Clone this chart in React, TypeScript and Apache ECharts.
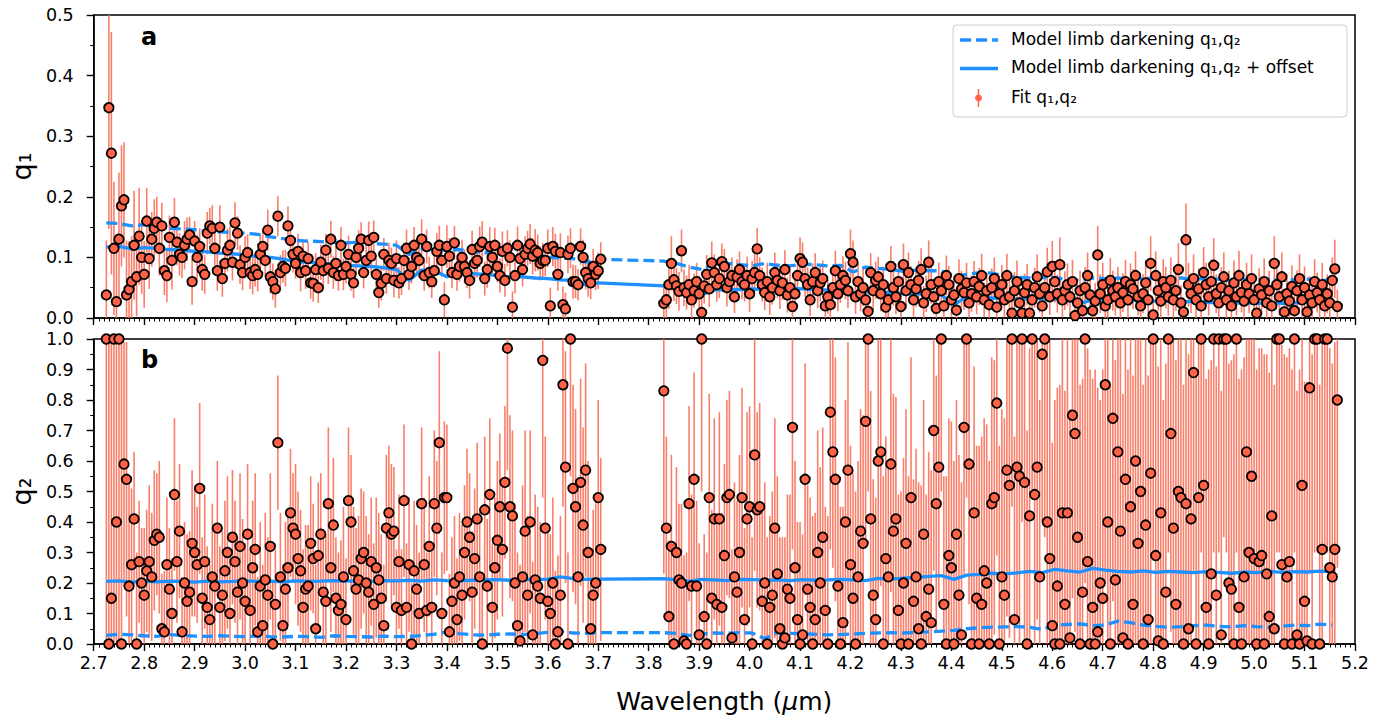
import React, { useEffect, useRef } from "react";
import * as echarts from "echarts";

const FONT = "'DejaVu Sans', 'Noto Sans', sans-serif";

// Wavelength grid (µm): two detector segments, 0.005 µm sampling
const SEG1_START = 2.725;
const SEG2_START = 3.83;
const STEP = 0.005;
// Model curves sampled every 0.025 µm
const MODEL_STEP = 0.025;

// q1 fits (×1000), segment 1 (2.725–3.705 µm)
const q1Seg1 = [
  38, 347, 272, 115, 27, 130, 185, 195, 38, 47,
  60, 120, 68, 135, 100, 72, 160, 98, 130, 148,
  158, 115, 152, 78, 70, 133, 95, 158, 125, 105,
  100, 120, 130, 137, 60, 127, 100, 118, 80, 72,
  140, 152, 148, 115, 78, 150, 65, 90, 112, 120,
  92, 157, 140, 88, 75, 100, 108, 75, 70, 80,
  72, 105, 118, 95, 145, 68, 60, 48, 168, 75,
  85, 82, 152, 128, 105, 90, 110, 75, 102, 78,
  98, 58, 57, 80, 50, 92, 78, 112, 82, 130,
  75, 90, 70, 120, 72, 85, 105, 72, 58, 100,
  115, 130, 75, 95, 128, 102, 133, 72, 42, 57,
  105, 65, 95, 90, 62, 98, 58, 65, 95, 115,
  72, 85, 120, 100, 95, 130, 70, 118, 75, 60,
  78, 110, 120, 95, 30, 118, 102, 75, 124, 72,
  85, 100, 85, 75, 62, 113, 90, 95, 118, 125,
  65, 80, 118, 100, 120, 85, 70, 110, 62, 115,
  100, 18, 70, 120, 98, 80, 105, 115, 122, 102,
  112, 108, 90, 95, 95, 115, 20, 118, 110, 72,
  108, 22, 15, 105, 115, 60, 60, 55, 118, 100,
  75, 65, 58, 85, 72, 78, 97,
];
// q1 fit uncertainties (×1000), segment 1
const q1ErrSeg1 = [
  90, 200, 200, 110, 85, 110, 100, 95, 90, 80,
  75, 90, 65, 80, 60, 55, 55, 50, 45, 48,
  42, 45, 38, 40, 44, 36, 48, 40, 38, 35,
  34, 40, 36, 30, 38, 33, 36, 30, 35, 32,
  35, 30, 38, 28, 33, 36, 30, 27, 35, 31,
  30, 34, 28, 32, 29, 35, 30, 27, 31, 28,
  28, 32, 30, 26, 34, 28, 30, 31, 33, 29,
  27, 30, 32, 28, 30, 25, 29, 31, 27, 30,
  28, 26, 30, 27, 25, 29, 31, 27, 26, 30,
  27, 29, 25, 30, 26, 28, 31, 27, 25, 29,
  30, 28, 26, 29, 31, 27, 28, 26, 25, 28,
  27, 25, 29, 26, 28, 30, 26, 27, 29, 31,
  26, 28, 30, 27, 29, 33, 25, 28, 26, 27,
  28, 30, 32, 27, 29, 35, 30, 26, 28, 27,
  25, 29, 28, 26, 30, 31, 27, 29, 33, 35,
  28, 30, 32, 27, 29, 26, 28, 33, 27, 30,
  28, 26, 29, 31, 27, 28, 30, 29, 33, 30,
  35, 30, 28, 29, 26, 31, 30, 32, 29, 27,
  32, 30, 27, 31, 33, 28, 27, 26, 30, 29,
  28, 30, 27, 29, 26, 30, 28,
];
// q1 fits (×1000), segment 2 (3.830–5.165 µm)
const q1Seg2 = [
  24, 30, 55, 90, 63, 53, 44, 111, 50, 42,
  55, 30, 45, 60, 40, 9, 53, 72, 48, 91,
  75, 55, 65, 93, 85, 50, 60, 70, 35, 68,
  80, 60, 55, 70, 40, 65, 75, 114, 70, 55,
  42, 60, 35, 50, 75, 62, 45, 58, 80, 38,
  50, 19, 40, 70, 98, 92, 65, 55, 30, 60,
  75, 45, 58, 65, 20, 35, 22, 50, 78, 40,
  55, 70, 62, 45, 106, 92, 35, 60, 40, 50,
  30, 11, 75, 45, 62, 68, 40, 55, 18, 30,
  85, 50, 35, 60, 19, 88, 45, 75, 55, 30,
  48, 62, 80, 25, 40, 92, 55, 35, 16, 60,
  45, 20, 70, 55, 30, 38, 13, 65, 48, 42,
  58, 25, 40, 60, 35, 52, 70, 30, 45, 22,
  50, 65, 18, 40, 55, 30, 70, 35, 8, 45,
  60, 25, 8, 42, 55, 8, 30, 50, 68, 40,
  20, 50, 76, 35, 85, 60, 40, 88, 30, 45,
  55, 35, 60, 4, 25, 45, 12, 50, 70, 38,
  12, 28, 104, 40, 55, 20, 30, 62, 45, 35,
  50, 25, 42, 60, 30, 55, 48, 70, 35, 20,
  40, 58, 30, 90, 5, 70, 45, 28, 60, 50,
  35, 62, 30, 45, 80, 25, 10, 129, 55, 40,
  65, 30, 48, 20, 75, 55, 35, 60, 87, 40,
  25, 50, 68, 30, 45, 20, 58, 35, 70, 42,
  28, 55, 40, 65, 30, 8, 48, 38, 60, 25,
  45, 20, 90, 55, 35, 68, 10, 40, 28, 52,
  12, 45, 65, 30, 50, 10, 38, 25, 60, 42,
  30, 55, 20, 40, 25, 62, 81, 19,
];
// q1 fit uncertainties (×1000), segment 2
const q1ErrSeg2 = [
  30, 32, 40, 45, 35, 30, 32, 35, 30, 28,
  33, 30, 28, 31, 30, 25, 29, 32, 30, 35,
  30, 28, 32, 30, 29, 31, 28, 30, 27, 29,
  30, 29, 28, 31, 30, 29, 32, 35, 30, 28,
  29, 31, 30, 28, 33, 29, 30, 28, 32, 29,
  30, 25, 28, 31, 35, 33, 30, 29, 27, 30,
  32, 29, 31, 30, 25, 28, 26, 30, 33, 29,
  30, 32, 31, 29, 40, 36, 28, 30, 29, 31,
  28, 25, 32, 30, 31, 33, 29, 30, 26, 28,
  34, 30, 29, 31, 26, 35, 30, 33, 31, 28,
  30, 32, 35, 28, 30, 36, 31, 29, 25, 32,
  30, 26, 33, 31, 28, 30, 25, 32, 30, 29,
  33, 28, 30, 34, 29, 31, 36, 28, 30, 27,
  32, 35, 26, 30, 33, 29, 36, 30, 22, 31,
  35, 29, 24, 31, 34, 24, 30, 33, 37, 31,
  28, 33, 40, 30, 42, 35, 31, 45, 29, 32,
  35, 30, 36, 20, 29, 33, 25, 34, 38, 31,
  25, 30, 48, 32, 36, 28, 30, 37, 33, 31,
  34, 28, 32, 36, 30, 35, 33, 40, 31, 27,
  32, 37, 30, 45, 22, 40, 33, 29, 37, 34,
  31, 38, 30, 33, 44, 29, 24, 60, 36, 32,
  40, 30, 34, 26, 42, 36, 31, 37, 45, 32,
  28, 34, 40, 30, 33, 27, 37, 31, 41, 33,
  29, 36, 32, 40, 30, 24, 34, 31, 38, 28,
  33, 26, 45, 36, 31, 40, 25, 32, 29, 35,
  25, 34, 40, 30, 35, 25, 31, 28, 37, 33,
  30, 36, 27, 32, 29, 38, 48, 28,
];

// q2 fits (×100), segment 1
const q2Seg1 = [
  100, 0, 15, 100, 40, 100, 0, 59, 54, 19,
  26, 41, 0, 27, 20, 16, 24, 27, 22, 34,
  36, 35, 5, 4, 26, 18, 10, 49, 27, 37,
  4, 20, 14, 17, 33, 30, 26, 51, 15, 27,
  12, 8, 22, 19, 38, 12, 16, 24, 30, 10,
  35, 27, 17, 32, 20, 14, 36, 11, 25, 31,
  4, 19, 6, 21, 16, 32, 0, 13, 66, 22,
  6, 18, 25, 43, 38, 36, 28, 24, 12, 18,
  19, 33, 28, 5, 29, 36, 17, 14, 46, 25,
  39, 15, 11, 13, 22, 8, 47, 40, 24, 18,
  21, 28, 30, 20, 17, 27, 13, 25, 21, 15,
  6, 38, 43, 36, 37, 12, 27, 11, 47, 12,
  26, 0, 24, 18, 10, 46, 26, 11, 32, 12,
  46, 38, 66, 10, 48, 48, 4, 14, 20, 8,
  22, 16, 30, 40, 35, 17, 28, 41, 22, 0,
  44, 19, 49, 12, 25, 34, 45, 31, 53, 97,
  45, 42, 20, 6, 1, 22, 37, 16, 40, 3,
  21, 19, 15, 93, 38, 14, 10, 20, 0, 4,
  16, 85, 58, 0, 100, 51, 45, 22, 53, 39,
  57, 30, 5, 16, 20, 48, 31,
];
// q2 fit uncertainties (×100), segment 1
const q2ErrSeg1 = [
  100, 100, 90, 100, 60, 100, 100, 40, 45, 35,
  25, 22, 30, 20, 18, 22, 20, 25, 21, 23,
  20, 25, 18, 20, 22, 20, 18, 25, 20, 22,
  18, 20, 22, 20, 24, 21, 19, 28, 20, 22,
  20, 18, 24, 19, 22, 20, 21, 23, 25, 19,
  22, 20, 18, 24, 21, 19, 23, 20, 22, 25,
  18, 21, 20, 22, 19, 24, 20, 18, 22, 21,
  20, 22, 19, 21, 18, 23, 22, 20, 19, 21,
  20, 22, 18, 21, 24, 20, 19, 22, 25, 21,
  22, 20, 19, 21, 23, 20, 24, 22, 21, 20,
  21, 23, 20, 22, 19, 21, 20, 23, 22, 21,
  20, 24, 22, 23, 21, 19, 22, 20, 25, 21,
  22, 20, 23, 21, 20, 25, 22, 19, 23, 21,
  24, 22, 30, 20, 25, 24, 19, 21, 22, 20,
  21, 23, 22, 24, 21, 20, 23, 25, 22, 20,
  24, 22, 25, 21, 23, 26, 24, 22, 25, 40,
  30, 28, 26, 24, 25, 30, 33, 26, 30, 24,
  28, 26, 25, 45, 30, 24, 26, 28, 24, 25,
  26, 40, 38, 30, 45, 34, 32, 30, 34, 32,
  35, 30, 25, 28, 29, 32, 30,
];
// q2 fits (×100), segment 2
const q2Seg2 = [
  83, 38, 9, 32, 0, 30, 21, 20, 1, 0,
  46, 19, 54, 19, 3, 100, 9, 0, 48, 15,
  41, 13, 41, 12, 29, 48, 49, 2, 22, 17,
  30, 48, 8, 41, 45, 0, 62, 44, 45, 14,
  20, 0, 12, 16, 38, 23, 5, 0, 2, 18,
  15, 71, 25, 8, 0, 3, 54, 18, 12, 0,
  8, 30, 20, 35, 11, 0, 76, 63, 54, 19,
  0, 7, 40, 57, 26, 15, 0, 22, 37, 33,
  73, 100, 41, 16, 8, 60, 63, 0, 28, 22,
  59, 37, 41, 11, 0, 20, 33, 0, 48, 14,
  22, 5, 0, 36, 9, 18, 7, 70, 46, 58,
  100, 13, 0, 29, 25, 0, 36, 16, 3, 71,
  100, 59, 0, 43, 15, 0, 13, 24, 20, 0,
  46, 48, 79, 0, 22, 16, 57, 52, 100, 8,
  58, 55, 100, 53, 0, 42, 100, 49, 58, 22,
  95, 100, 40, 28, 6, 0, 19, 0, 43, 13,
  43, 2, 75, 69, 35, 0, 17, 100, 27, 0,
  12, 0, 4, 20, 15, 85, 40, 0, 74, 21,
  63, 37, 2, 54, 0, 45, 13, 60, 33, 50,
  0, 39, 8, 56, 100, 29, 1, 43, 0, 17,
  100, 69, 38, 13, 50, 48, 0, 46, 5, 41,
  89, 0, 48, 100, 52, 12, 0, 23, 100, 16,
  100, 3, 100, 100, 20, 18, 0, 100, 12, 0,
  22, 63, 30, 55, 28, 0, 27, 29, 0, 23,
  9, 42, 5, 100, 100, 26, 0, 22, 27, 0,
  100, 3, 0, 52, 14, 1, 84, 0, 100, 100,
  0, 31, 100, 100, 25, 22, 31, 80,
];
// q2 fit uncertainties (×100), segment 2
const q2ErrSeg2 = [
  60, 30, 25, 30, 30, 28, 25, 26, 28, 30,
  32, 30, 35, 28, 30, 50, 27, 30, 34, 29,
  33, 30, 35, 31, 30, 32, 34, 29, 31, 30,
  32, 36, 30, 35, 33, 35, 38, 32, 34, 30,
  33, 35, 30, 34, 36, 32, 30, 35, 33, 31,
  34, 40, 35, 32, 40, 33, 38, 34, 36, 42,
  35, 40, 38, 36, 34, 42, 45, 38, 40, 36,
  45, 38, 40, 42, 39, 41, 50, 38, 40, 42,
  40, 50, 42, 38, 40, 45, 44, 55, 40, 38,
  42, 45, 40, 38, 50, 41, 44, 55, 46, 40,
  42, 48, 52, 44, 40, 45, 50, 46, 42, 44,
  50, 42, 55, 45, 48, 60, 44, 46, 50, 48,
  52, 46, 60, 48, 50, 65, 55, 50, 52, 60,
  48, 45, 50, 65, 55, 58, 48, 50, 55, 60,
  50, 55, 60, 52, 70, 55, 50, 52, 50, 58,
  55, 65, 70, 75, 60, 80, 65, 85, 60, 70,
  65, 75, 60, 65, 70, 85, 70, 80, 70, 90,
  75, 90, 80, 60, 75, 65, 70, 85, 60, 72,
  65, 70, 80, 65, 90, 70, 75, 60, 70, 65,
  85, 70, 80, 65, 70, 70, 90, 65, 80, 75,
  70, 65, 70, 80, 65, 68, 85, 65, 90, 70,
  65, 90, 68, 70, 65, 75, 90, 70, 70, 75,
  70, 80, 65, 70, 72, 75, 95, 70, 75, 90,
  72, 65, 70, 68, 72, 90, 70, 68, 95, 72,
  80, 68, 80, 70, 70, 72, 95, 72, 70, 90,
  70, 80, 90, 65, 72, 85, 60, 95, 70, 70,
  85, 72, 70, 70, 72, 70, 68, 55,
];

// Model limb darkening (×1000), sampled every 0.025 µm
const q1ModelSeg1 = [
  157, 156, 152, 154, 150, 148, 147, 146, 143, 142,
  141, 140, 138, 134, 131, 128, 127, 126, 125, 124,
  125, 123, 122, 120, 105, 114, 113, 112, 113, 110,
  108, 106, 104, 103, 102, 100, 99, 98, 92, 97,
];
const q1ModelSeg2 = [
  94, 90, 84, 80, 89, 90, 88, 86, 90, 87,
  86, 89, 88, 86, 87, 76, 84, 82, 80, 77,
  79, 78, 78, 68, 72, 75, 74, 70, 67, 66,
  67, 66, 64, 62, 66, 65, 66, 64, 65, 66,
  65, 66, 64, 65, 64, 62, 64, 63, 64, 62,
  63, 64, 62, 63,
];
const q1OffsetSeg1 = [
  117, 118, 114, 116, 115, 113, 112, 110, 109, 107,
  106, 104, 101, 100, 97, 93, 92, 91, 88, 87,
  86, 85, 83, 80, 62, 79, 78, 68, 76, 73,
  72, 70, 68, 68, 66, 65, 63, 62, 55, 58,
];
const q1OffsetSeg2 = [
  53, 50, 44, 38, 47, 46, 47, 48, 47, 48,
  49, 48, 47, 46, 45, 35, 44, 43, 42, 40,
  40, 39, 38, 22, 35, 34, 33, 32, 31, 32,
  32, 31, 29, 24, 30, 29, 30, 29, 28, 28,
  28, 27, 27, 26, 25, 24, 25, 24, 25, 24,
  25, 26, 25, 26,
];
const q2ModelSeg1 = [
  28, 32, 30, 27, 25, 31, 28, 26, 25, 27,
  25, 24, 26, 24, 23, 25, 24, 22, 27, 25,
  24, 23, 26, 24, 25, 28, 32, 40, 34, 30,
  29, 32, 33, 31, 34, 38, 42, 36, 35, 37,
];
const q2ModelSeg2 = [
  37, 35, 28, 33, 36, 35, 37, 36, 18, 37,
  35, 34, 32, 30, 31, 33, 35, 36, 37, 36,
  38, 40, 42, 45, 50, 53, 55, 56, 57, 55,
  48, 62, 64, 66, 60, 62, 75, 70, 62, 58,
  55, 57, 60, 62, 58, 56, 60, 57, 55, 58,
  62, 60, 65, 62,
];
const q2OffsetSeg1 = [
  205, 207, 203, 206, 204, 206, 205, 203, 206, 204,
  205, 207, 205, 206, 204, 207, 205, 206, 208, 206,
  207, 205, 208, 207, 209, 206, 210, 208, 207, 209,
  210, 211, 209, 212, 211, 213, 220, 214, 212, 213,
];
const q2OffsetSeg2 = [
  214, 210, 205, 212, 210, 208, 212, 211, 209, 210,
  208, 211, 209, 210, 212, 210, 208, 215, 213, 216,
  218, 222, 224, 212, 226, 228, 232, 230, 233, 238,
  234, 245, 240, 236, 248, 242, 238, 236, 240, 235,
  238, 236, 234, 237, 235, 232, 236, 234, 238, 235,
  237, 236, 239, 238,
];

const X_TICKS_MIN = 2.7;
const X_TICKS_MAX = 5.2;
const LEGEND_LABELS = [
  "Model limb darkening q\u2081,q\u2082",
  "Model limb darkening q\u2081,q\u2082 + offset",
  "Fit q\u2081,q\u2082",
];

const BLUE = "#1e90ff";
const RED = "#ff6347";
const BAR = "rgba(248,104,80,0.85)";

function gridX(start: number, n: number, step: number) {
  const out: number[] = [];
  for (let i = 0; i < n; i++) out.push(+(start + i * step).toFixed(4));
  return out;
}

function points(xs: number[], vals: number[], scale: number) {
  return vals.map((v, i) => [xs[i], v / scale]);
}
function bars(xs: number[], vals: number[], errs: number[], scale: number, ymax: number) {
  return vals.map((v, i) => [
    xs[i],
    Math.max(0, (v - errs[i]) / scale),
    Math.min(ymax, (v + errs[i]) / scale),
  ]);
}

export default function App() {
  const ref = useRef<HTMLDivElement>(null);

  useEffect(() => {
    document.body.style.margin = "0";
    if (!ref.current) return;
    const chart = echarts.init(ref.current, null, { renderer: "svg" });

    const x1 = gridX(SEG1_START, q1Seg1.length, STEP);
    const x2 = gridX(SEG2_START, q1Seg2.length, STEP);
    const mx1 = gridX(SEG1_START, q1ModelSeg1.length, MODEL_STEP);
    const mx2 = gridX(SEG2_START, q1ModelSeg2.length, MODEL_STEP);
    const mxs = mx1.concat(mx2);

    const q1Pts = points(x1, q1Seg1, 1000).concat(points(x2, q1Seg2, 1000));
    const q1Bars = bars(x1, q1Seg1, q1ErrSeg1, 1000, 0.5).concat(bars(x2, q1Seg2, q1ErrSeg2, 1000, 0.5));
    const q2Pts = points(x1, q2Seg1, 100).concat(points(x2, q2Seg2, 100));
    const q2Bars = bars(x1, q2Seg1, q2ErrSeg1, 100, 1).concat(bars(x2, q2Seg2, q2ErrSeg2, 100, 1));

    const model = (a: number[], b: number[]) => a.concat(b).map((v, i) => [mxs[i], v / 1000]);

    const xAxisCfg = (gridIndex: number, showLabels: boolean) => ({
      type: "value",
      gridIndex,
      min: X_TICKS_MIN,
      max: X_TICKS_MAX,
      interval: 0.1,
      axisLine: { show: true, onZero: false, lineStyle: { color: "#000", width: 1.5 } },
      axisTick: { show: true, length: 7, lineStyle: { color: "#000", width: 1.4 } },
      minorTick: { show: true, splitNumber: 10, length: 3.5, lineStyle: { color: "#000", width: 1 } },
      splitLine: { show: false },
      minorSplitLine: { show: false },
      axisLabel: {
        show: showLabels,
        formatter: (v: number) => v.toFixed(1),
        fontSize: 17.5,
        color: "#000",
        fontFamily: FONT,
        margin: 10,
        showMinLabel: true,
        showMaxLabel: true,
      },
      name: showLabels ? "{a|Wavelength (}{i|\u03bc}{a|m)}" : "",
      nameLocation: "middle",
      nameGap: 45,
      nameTextStyle: {
        rich: {
          a: { fontSize: 25, fontFamily: FONT, color: "#000" },
          i: { fontSize: 25, fontFamily: FONT, color: "#000", fontStyle: "italic" },
        },
      },
    });

    const yAxisCfg = (gridIndex: number, max: number, name: string) => ({
      type: "value",
      gridIndex,
      min: 0,
      max,
      interval: 0.1,
      axisLine: { show: true, onZero: false, lineStyle: { color: "#000", width: 1.5 } },
      axisTick: { show: true, length: 7, lineStyle: { color: "#000", width: 1.4 } },
      minorTick: { show: true, splitNumber: 2, length: 3.5, lineStyle: { color: "#000", width: 1 } },
      splitLine: { show: false },
      axisLabel: {
        formatter: (v: number) => v.toFixed(1),
        fontSize: 17.5,
        color: "#000",
        fontFamily: FONT,
        margin: 20,
        showMinLabel: true,
        showMaxLabel: true,
      },
      name,
      nameLocation: "middle",
      nameGap: 52,
      nameRotate: 90,
      nameTextStyle: { fontSize: 27, fontFamily: FONT, color: "#000" },
    });

    const errSeries = (data: number[][], idx: number) => ({
      type: "custom",
      xAxisIndex: idx,
      yAxisIndex: idx,
      z: 1,
      clip: true,
      silent: true,
      encode: { x: 0, y: [1, 2] },
      data,
      renderItem: (_p: any, api: any) => {
        const x = api.value(0);
        const a = api.coord([x, api.value(1)]);
        const b = api.coord([x, api.value(2)]);
        return {
          type: "line",
          shape: { x1: a[0], y1: a[1], x2: b[0], y2: b[1] },
          style: { stroke: BAR, lineWidth: 1.6 },
        };
      },
    });

    const lineSeries = (data: number[][], idx: number, dashed: boolean) => ({
      type: "line",
      xAxisIndex: idx,
      yAxisIndex: idx,
      z: 2,
      data,
      showSymbol: false,
      symbol: "none",
      silent: true,
      clip: true,
      lineStyle: { color: BLUE, width: 3.3, type: dashed ? [11, 5] : "solid" },
    });

    const scatterSeries = (data: number[][], idx: number) => ({
      type: "scatter",
      xAxisIndex: idx,
      yAxisIndex: idx,
      z: 3,
      data,
      symbol: "circle",
      symbolSize: 9.5,
      silent: true,
      itemStyle: { color: RED, borderColor: "#000", borderWidth: 1.8, opacity: 1 },
    });

    const legendRowY = [40, 68.5, 98];
    const textStyle = (t: string, y: number) => ({
      type: "text",
      left: 1011,
      top: y - 10,
      z: 100,
      style: { text: t, fontSize: 17, fontFamily: FONT, fill: "#000" },
    });

    chart.setOption({
      animation: false,
      backgroundColor: "#fff",
      grid: [
        { left: 92, right: 32, top: 15, height: 303, show: true, borderColor: "#000", borderWidth: 1.5, backgroundColor: "transparent" },
        { left: 92, right: 32, top: 339, height: 305, show: true, borderColor: "#000", borderWidth: 1.5, backgroundColor: "transparent" },
      ],
      xAxis: [xAxisCfg(0, false), xAxisCfg(1, true)],
      yAxis: [yAxisCfg(0, 0.5, "q\u2081"), yAxisCfg(1, 1, "q\u2082")],
      series: [
        errSeries(q1Bars, 0),
        lineSeries(model(q1ModelSeg1, q1ModelSeg2), 0, true),
        lineSeries(model(q1OffsetSeg1, q1OffsetSeg2), 0, false),
        scatterSeries(q1Pts, 0),
        errSeries(q2Bars, 1),
        lineSeries(model(q2ModelSeg1, q2ModelSeg2), 1, true),
        lineSeries(model(q2OffsetSeg1, q2OffsetSeg2), 1, false),
        scatterSeries(q2Pts, 1),
      ],
      graphic: [
        { type: "text", left: 141, top: 25, z: 100, style: { text: "a", fontSize: 24, fontWeight: "bold", fontFamily: FONT, fill: "#000" } },
        { type: "text", left: 141, top: 348, z: 100, style: { text: "b", fontSize: 24, fontWeight: "bold", fontFamily: FONT, fill: "#000" } },
        {
          type: "rect",
          z: 90,
          shape: { x: 953, y: 25, width: 394, height: 92, r: 4 },
          style: { fill: "rgba(255,255,255,0.85)", stroke: "#cccccc", lineWidth: 1 },
        },
        {
          type: "line",
          z: 100,
          shape: { x1: 960, y1: legendRowY[0], x2: 998, y2: legendRowY[0] },
          style: { stroke: BLUE, lineWidth: 3.3, lineDash: [11, 5] },
        },
        {
          type: "line",
          z: 100,
          shape: { x1: 960, y1: legendRowY[1], x2: 998, y2: legendRowY[1] },
          style: { stroke: BLUE, lineWidth: 3.3 },
        },
        {
          type: "line",
          z: 100,
          shape: { x1: 978.5, y1: legendRowY[2] - 9, x2: 978.5, y2: legendRowY[2] + 9 },
          style: { stroke: RED, lineWidth: 1.5 },
        },
        {
          type: "circle",
          z: 100,
          shape: { cx: 978.5, cy: legendRowY[2], r: 3 },
          style: { fill: RED, stroke: RED, lineWidth: 1 },
        },
        textStyle(LEGEND_LABELS[0], legendRowY[0]),
        textStyle(LEGEND_LABELS[1], legendRowY[1]),
        textStyle(LEGEND_LABELS[2], legendRowY[2]),
      ],
    });

    return () => chart.dispose();
  }, []);

  return <div ref={ref} style={{ width: 1387, height: 723 }} />;
}
